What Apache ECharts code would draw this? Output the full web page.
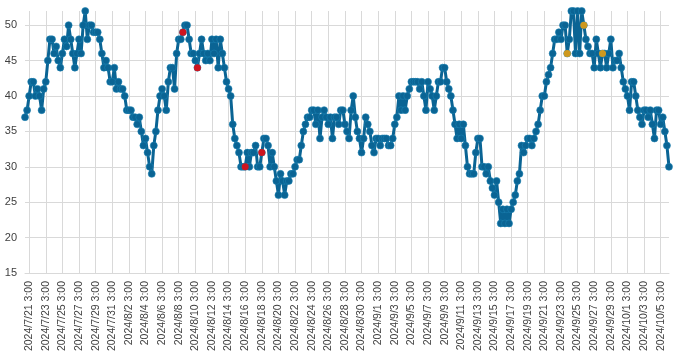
<!DOCTYPE html>
<html>
<head>
<meta charset="utf-8">
<script src="https://cdn.jsdelivr.net/npm/echarts@6/dist/echarts.min.js"></script>
<style>html,body{margin:0;padding:0;background:#fff}#c{width:700px;height:355px}</style>
</head>
<body>
<div id="c"></div>
<script>
// 6-hourly readings starting 2024/7/20 15:00
const startYMDH = [2024, 7, 20, 15];
const stepHours = 6;

const values = [
  37, 38,
  40, 42, 42, 40, 41, 40, 38, 41,
  42, 45, 48, 48, 46, 47, 45, 44,
  46, 48, 47, 50, 48, 46, 44, 46,
  48, 46, 50, 52, 48, 50, 50, 49,
  49, 49, 48, 46, 44, 45, 44, 42,
  42, 44, 41, 42, 41, 41, 40, 38,
  38, 38, 37, 37, 36, 37, 35, 33,
  34, 32, 30, 29, 33, 35, 38, 40,
  41, 40, 38, 42, 44, 44, 41, 46,
  48, 48, 49, 50, 50, 48, 46, 46,
  45, 44, 46, 48, 46, 45, 46, 45,
  48, 46, 48, 44, 48, 46, 44, 42,
  41, 40, 36, 34, 33, 32, 30, 30,
  30, 32, 30, 32, 32, 33, 30, 30,
  32, 34, 34, 33, 30, 32, 30, 28,
  26, 29, 28, 26, 28, 28, 29, 29,
  30, 31, 31, 33, 35, 36, 37, 37,
  38, 38, 36, 38, 34, 37, 38, 37,
  36, 37, 34, 37, 37, 36, 38, 38,
  36, 35, 34, 38, 40, 37, 35, 34,
  32, 34, 37, 36, 35, 33, 32, 34,
  34, 33, 34, 34, 34, 33, 33, 34,
  36, 37, 40, 38, 40, 38, 40, 41,
  42, 42, 42, 42, 41, 42, 40, 38,
  42, 41, 40, 38, 40, 42, 42, 44,
  44, 42, 41, 40, 38, 36, 34, 36,
  34, 36, 33, 30, 29, 29, 29, 32,
  34, 34, 30, 30, 29, 30, 28, 27,
  26, 28, 25, 22, 24, 22, 24, 22,
  24, 25, 26, 28, 29, 33, 32, 33,
  34, 34, 33, 34, 35, 36, 38, 40,
  40, 42, 43, 44, 46, 48, 48, 49,
  48, 50, 50, 46, 48, 52, 52, 46,
  52, 46, 52, 50, 48, 47, 46, 46,
  44, 48, 46, 44, 46, 46, 44, 46,
  48, 44, 45, 45, 46, 44, 42, 41,
  40, 38, 42, 42, 40, 38, 37, 36,
  38, 38, 37, 38, 36, 34, 38, 38,
  36, 37, 35, 33, 30
];

// highlighted readings (index into categories, value)
const redIdx = [76, 83, 106, 114];
const redVals = [49, 44, 30, 32];
const orangeIdx = [261, 269, 278];
const orangeVals = [46, 50, 46];

const yTicks = [15, 20, 25, 30, 35, 40, 45, 50];

const categories = [];
{
  const t0 = Date.UTC(startYMDH[0], startYMDH[1] - 1, startYMDH[2], startYMDH[3]);
  for (let i = 0; i < values.length; i++) {
    const d = new Date(t0 + i * stepHours * 3600000);
    categories.push(d.getUTCFullYear() + '/' + (d.getUTCMonth() + 1) + '/' + d.getUTCDate() + ' ' + d.getUTCHours() + ':00');
  }
}
const showTick = (idx) => idx >= 2 && ((idx - 2) % 8 === 0);

const chart = echarts.init(document.getElementById('c'), null, {renderer: 'canvas'});
const gridColor = '#d9d9d9';
chart.setOption({
  animation: false,
  backgroundColor: '#ffffff',
  grid: {left: 25, right: 31, top: 11, bottom: 82, containLabel: false},
  xAxis: {
    type: 'category',
    data: categories,
    boundaryGap: false,
    axisLine: {show: true, lineStyle: {color: gridColor, width: 1}},
    axisTick: {show: false},
    axisLabel: {
      interval: (i) => showTick(i),
      rotate: 90,
      margin: 8,
      fontSize: 10.5,
      color: '#404040',
      fontFamily: 'Liberation Sans, Arial, sans-serif'
    },
    splitLine: {show: true, interval: (i) => showTick(i), lineStyle: {color: gridColor, width: 1}}
  },
  yAxis: {
    type: 'value',
    min: yTicks[0],
    max: 52,
    interval: 5,
    axisLine: {show: false},
    axisTick: {show: false},
    axisLabel: {
      fontSize: 11,
      color: '#404040',
      margin: 8,
      fontFamily: 'Liberation Sans, Arial, sans-serif',
      formatter: (v) => (yTicks.indexOf(v) >= 0 ? String(v) : '')
    },
    splitLine: {show: true, lineStyle: {color: [gridColor, gridColor, gridColor, gridColor, gridColor, gridColor, gridColor, gridColor, 'rgba(0,0,0,0)'], width: 1}}
  },
  series: [
    {
      type: 'line',
      data: values,
      symbol: 'circle',
      symbolSize: 7,
      showAllSymbol: true,
      lineStyle: {color: '#0a6494', width: 3},
      itemStyle: {color: '#0a6494', borderColor: '#1a7fb0', borderWidth: 0.6},
      z: 2
    },
    {
      type: 'scatter',
      data: redIdx.map((k, j) => [categories[k], redVals[j]]),
      symbol: 'circle',
      symbolSize: 7,
      itemStyle: {color: '#ff0000'},
      z: 3
    },
    {
      type: 'scatter',
      data: orangeIdx.map((k, j) => [categories[k], orangeVals[j]]),
      symbol: 'circle',
      symbolSize: 7,
      itemStyle: {color: '#ffa500'},
      z: 3
    }
  ]
});
</script>
</body>
</html>
